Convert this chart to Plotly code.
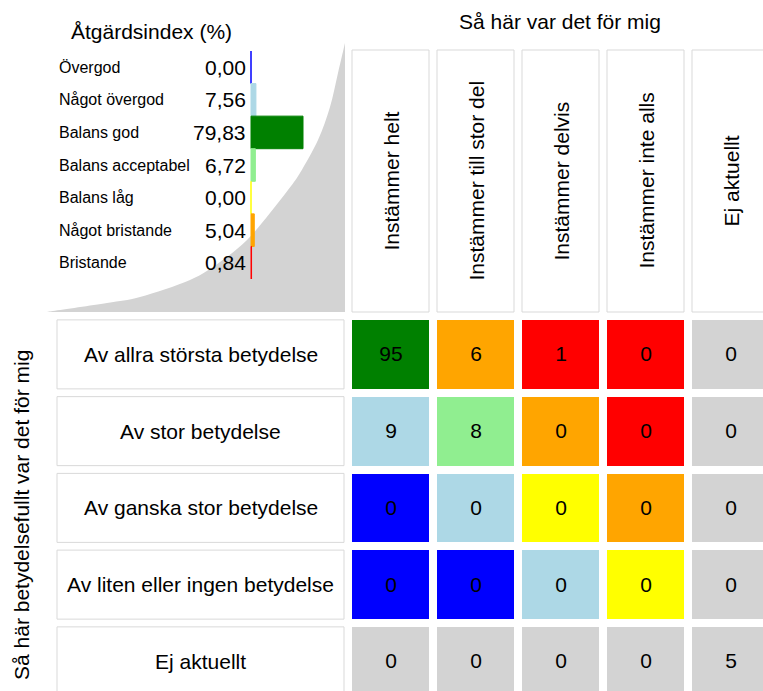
import plotly.graph_objects as go

W, H = 763, 691
FONT = "Liberation Sans, Arial, sans-serif"

# ---------------- data ----------------
index_labels = ["Övergod", "Något övergod", "Balans god", "Balans acceptabel",
                "Balans låg", "Något bristande", "Bristande"]
index_values = [0.00, 7.56, 79.83, 6.72, 0.00, 5.04, 0.84]
index_colors = ["#0000ff", "#add8e6", "#008000", "#90ee90", "#ffff00", "#ffa500", "#ff0000"]

col_labels = ["Instämmer helt", "Instämmer till stor del", "Instämmer delvis",
              "Instämmer inte alls", "Ej aktuellt"]
row_labels = ["Av allra största betydelse", "Av stor betydelse", "Av ganska stor betydelse",
              "Av liten eller ingen betydelse", "Ej aktuellt"]
counts = [[95, 6, 1, 0, 0],
          [9, 8, 0, 0, 0],
          [0, 0, 0, 0, 0],
          [0, 0, 0, 0, 0],
          [0, 0, 0, 0, 5]]
# colour level for each cell (index into level_colors)
cell_level = [[2, 5, 6, 6, 7],
              [1, 3, 5, 6, 7],
              [0, 1, 4, 5, 7],
              [0, 0, 1, 4, 7],
              [7, 7, 7, 7, 7]]
level_colors = ["#0000ff", "#add8e6", "#008000", "#90ee90", "#ffff00", "#ffa500", "#ff0000", "#d3d3d3"]

title_index = "Åtgärdsindex (%)"
title_top = "Så här var det för mig"
title_left = "Så här betydelsefullt var det för mig"


# ---------------- helpers (page pixel -> paper fraction) ----------------
def px(x):
    return x / W


def py(y):
    return 1 - y / H


n = len(level_colors)
colorscale = []
for i, c in enumerate(level_colors):
    colorscale.append([i / n, c])
    colorscale.append([(i + 1) / n, c])

fig = go.Figure()

# header boxes
fig.add_trace(go.Bar(
    x=col_labels, y=[1] * len(col_labels), width=77 / 85,
    marker=dict(color="white", line=dict(color="#d9d9d9", width=1)),
    xaxis="x", yaxis="y2", hoverinfo="skip", showlegend=False))

# row label boxes
fig.add_trace(go.Bar(
    y=row_labels, x=[1] * len(row_labels), orientation="h", width=69 / 76.75,
    marker=dict(color="white", line=dict(color="#d9d9d9", width=1)),
    xaxis="x4", yaxis="y", hoverinfo="skip", showlegend=False))

# matrix cells
fig.add_trace(go.Heatmap(
    z=cell_level, x=col_labels, y=row_labels, text=counts, texttemplate="%{text}",
    textfont=dict(size=21, color="black", family=FONT),
    colorscale=colorscale, zmin=-0.5, zmax=n - 0.5, showscale=False,
    xgap=8, ygap=8, hoverinfo="skip", xaxis="x", yaxis="y"))

# index bars
fig.add_trace(go.Bar(
    y=index_labels, x=index_values, orientation="h", width=1,
    marker=dict(color=index_colors, line=dict(color=index_colors, width=1)),
    xaxis="x3", yaxis="y3", hoverinfo="skip", showlegend=False))

ann = []
for c in col_labels:
    ann.append(dict(x=c, y=0.5, xref="x", yref="y2", text=c, textangle=-90,
                    xanchor="center", yanchor="middle",
                    showarrow=False, font=dict(size=21, color="black", family=FONT)))
for r in row_labels:
    ann.append(dict(x=0.5, y=r, xref="x4", yref="y", text=r, showarrow=False,
                    xanchor="center", yanchor="middle",
                    font=dict(size=21, color="black", family=FONT)))
for lab, v in zip(index_labels, index_values):
    ann.append(dict(x=px(57), y=lab, xref="paper", yref="y3", text=lab,
                    xanchor="left", yanchor="middle",
                    showarrow=False, font=dict(size=16, color="black", family=FONT)))
    ann.append(dict(x=px(248), y=lab, xref="paper", yref="y3",
                    text=f"{v:.2f}".replace(".", ","), xanchor="right", yanchor="middle",
                    showarrow=False, font=dict(size=21, color="black", family=FONT)))
ann.append(dict(x=px(151), y=py(32), xref="paper", yref="paper", text=title_index,
                xanchor="center", yanchor="middle",
                showarrow=False, font=dict(size=21, color="black", family=FONT)))
ann.append(dict(x=px(560), y=py(22), xref="paper", yref="paper", text=title_top,
                xanchor="center", yanchor="middle",
                showarrow=False, font=dict(size=21, color="black", family=FONT)))
ann.append(dict(x=px(21), y=py(515), xref="paper", yref="paper", text=title_left,
                xanchor="center", yanchor="middle",
                textangle=-90, showarrow=False, font=dict(size=21, color="black", family=FONT)))

# decorative curved grey wedge (Catmull-Rom smoothed)
pts = [(48, 312), (53, 311), (107, 303), (140, 297), (190, 280), (220, 262), (247, 240),
       (270, 213), (288, 190), (300, 173), (318, 140), (330, 107), (338, 73), (345, 43)]
P = [(px(x), py(y)) for x, y in pts]
path = f"M {px(345)},{py(312)} L {P[0][0]},{P[0][1]}"
for i in range(len(P) - 1):
    p0 = P[i - 1] if i > 0 else P[i]
    p1, p2 = P[i], P[i + 1]
    p3 = P[i + 2] if i + 2 < len(P) else P[i + 1]
    c1 = (p1[0] + (p2[0] - p0[0]) / 6, p1[1] + (p2[1] - p0[1]) / 6)
    c2 = (p2[0] - (p3[0] - p1[0]) / 6, p2[1] - (p3[1] - p1[1]) / 6)
    path += f" C {c1[0]},{c1[1]} {c2[0]},{c2[1]} {p2[0]},{p2[1]}"
path += " Z"

shapes = [dict(type="path", path=path, xref="paper", yref="paper",
               fillcolor="#d3d3d3", line=dict(width=0), layer="below")]

hidden = dict(visible=False, showgrid=False, zeroline=False, fixedrange=True)
scale = 52 / 79.83  # px per percent

fig.update_layout(
    width=W, height=H, margin=dict(l=0, r=0, t=0, b=0),
    paper_bgcolor="white", plot_bgcolor="rgba(0,0,0,0)",
    font=dict(family=FONT, color="black"),
    showlegend=False, barmode="overlay",
    xaxis=dict(domain=[px(348), 1], range=[-0.5, (W - 348) / 85 - 0.5], anchor="y", **hidden),
    yaxis=dict(domain=[0, py(316)], range=[(H - 316) / 76.75 - 0.5, -0.5], anchor="x", **hidden),
    yaxis2=dict(domain=[py(314), py(48)], range=[-2 / 262, 1 + 2 / 262], anchor="x", **hidden),
    xaxis3=dict(domain=[px(249), px(345)], range=[-2 / scale, 94 / scale], anchor="y3", **hidden),
    yaxis3=dict(domain=[py(279), py(51)], range=[6.5, -0.5], anchor="x3", **hidden),
    xaxis4=dict(domain=[px(55), px(346)], range=[-2 / 287, 1 + 2 / 287], anchor="y", **hidden),
    annotations=ann, shapes=shapes,
)

fig.write_html("out.html", config={"displayModeBar": False},
               post_script="document.body.style.margin='0';document.body.style.overflow='hidden';")
